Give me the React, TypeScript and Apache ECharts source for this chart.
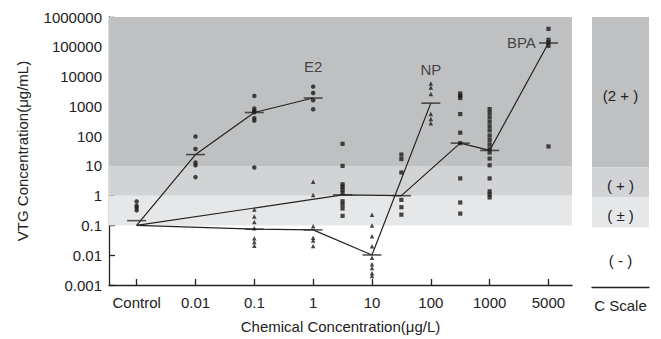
import React, { useEffect, useRef } from "react";
import * as echarts from "echarts";

const xLabels = ["Control", "0.01", "0.1", "1", "10", "100", "1000", "5000"];
const tickPositions = [0, 1, 2, 3, 4, 5, 6, 7];

const startValue = 0.1;
const controlX = 0;
const controlDots = [0.64, 0.46, 0.39, 0.32];
const controlMean = 0.145;

const e2X = [1, 2, 3];
const e2Points = [
  [97, 37, 13, 10.5, 4.2],
  [2240, 850, 710, 630, 400, 330, 8.8],
  [4600, 2800, 1600, 800],
];
const e2Means = [24, 620, 1900];

const npX = [2, 3, 4, 5];
const npPoints = [
  [0.34, 0.2, 0.13, 0.08, 0.037, 0.028, 0.021],
  [2.96, 1.06, 0.094, 0.0385, 0.031, 0.0204],
  [0.23, 0.1, 0.043, 0.02, 0.0083, 0.005, 0.0037, 0.0025, 0.002],
  [5900, 4260, 2610, 551, 376, 271],
];
const npMeans = [0.075, 0.071, 0.0102, 1280];

const bpaX = [3.5, 4.5, 5.5, 6, 7];
const bpaPoints = [
  [55, 10, 2.4, 2.0, 1.6, 1.25, 0.65, 0.5, 0.37, 0.21],
  [24, 17, 6, 0.72, 0.41, 0.23],
  [2700, 2250, 1900, 550, 130, 58, 3.8, 0.59, 0.25],
  [810, 600, 430, 305, 215, 155, 105, 75, 53, 38, 28, 17.6, 10.5, 3.8, 1.4, 1.1, 0.87],
  [400000, 172000, 140000, 108000, 45],
];
const bpaMeans = [1.06, 1.0, 58, 33, 134000];

const chemLabels = [
  { name: "E2", x: 3, y: 21700 },
  { name: "NP", x: 5, y: 17300 },
  { name: "BPA", x: 6.54, y: 144000 },
];

const bands = [
  { from: 10, to: 1000000, color: "#bfc0c2", label: "(2 + )" },
  { from: 1, to: 10, color: "#d2d3d5", label: "( + )" },
  { from: 0.1, to: 1, color: "#e6e7e8", label: "( ± )" },
  { from: 0.001, to: 0.1, color: "rgba(255,255,255,0)", label: "( - )" },
];

const FONT = "'Liberation Sans', Arial, Helvetica, sans-serif";
const TXT = "#222";

function flatten(xs: number[], groups: number[][]) {
  const out: number[][] = [];
  xs.forEach((x, i) => groups[i].forEach((v) => out.push([x, v])));
  return out;
}

export default function App() {
  const ref = useRef<HTMLDivElement>(null);
  useEffect(() => {
    if (!ref.current) return;
    const chart = echarts.init(ref.current, undefined, { renderer: "svg" });
    const fmt = (v: number) => {
      const e = Math.round(Math.log10(v));
      return e >= 0 ? String(Math.pow(10, e)) : Math.pow(10, e).toFixed(-e);
    };
    const meanStyle = { color: "#2a2a2a" };
    const lineStyle = { color: "#222", width: 1.2 };
    const markerColor = "#1a1a1a";
    const option: any = {
      animation: false,
      textStyle: { fontFamily: FONT },
      grid: [
        { left: 109, top: 17, width: 463, height: 270.7 },
        { left: 592, top: 17, width: 57, height: 270.7 },
      ],
      xAxis: [
        {
          type: "value",
          gridIndex: 0,
          min: -0.47,
          max: 7.4,
          splitLine: { show: false },
          axisLine: { onZero: false, lineStyle: { color: "#222", width: 1.3 } },
          axisTick: { inside: true, length: 6, customValues: tickPositions, lineStyle: { color: "#222", width: 1.3 } },
          axisLabel: {
            customValues: tickPositions,
            formatter: (v: number) => xLabels[Math.round(v)] ?? "",
            fontSize: 15,
            color: TXT,
            margin: 10,
            fontFamily: FONT,
          },
          name: "Chemical Concentration(μg/L)",
          nameLocation: "middle",
          nameGap: 34,
          nameTextStyle: { fontSize: 15, color: TXT, fontFamily: FONT },
        },
        {
          type: "value",
          gridIndex: 1,
          min: 0,
          max: 1,
          splitLine: { show: false },
          axisLine: { onZero: false, lineStyle: { color: "#222", width: 1.3 } },
          axisTick: { show: false },
          axisLabel: {
            customValues: [0.5],
            formatter: () => "C Scale",
            fontSize: 15,
            color: TXT,
            margin: 10,
            fontFamily: FONT,
          },
        },
      ],
      yAxis: [
        {
          type: "log",
          gridIndex: 0,
          logBase: 10,
          min: 0.001,
          max: 1000000,
          interval: 1,
          splitLine: { show: false },
          axisLine: { show: true, onZero: false, lineStyle: { color: "#222", width: 1.3 } },
          axisTick: { show: true, inside: true, length: 6, lineStyle: { color: "#222", width: 1.3 } },
          axisLabel: { formatter: fmt, fontSize: 15, color: TXT, margin: 7, fontFamily: FONT },
          name: "VTG Concentration(μg/mL)",
          nameLocation: "middle",
          nameRotate: 90,
          nameGap: 79,
          nameTextStyle: { fontSize: 15, color: TXT, fontFamily: FONT },
        },
        {
          type: "log",
          gridIndex: 1,
          logBase: 10,
          min: 0.001,
          max: 1000000,
          show: false,
          axisLine: { onZero: false },
        },
      ],
      series: [
        {
          type: "scatter",
          xAxisIndex: 0,
          yAxisIndex: 0,
          data: [],
          silent: true,
          markArea: {
            silent: true,
            data: bands.map((b) => [
              { yAxis: b.from, itemStyle: { color: b.color } },
              { yAxis: b.to },
            ]),
          },
        },
        {
          type: "scatter",
          xAxisIndex: 1,
          yAxisIndex: 1,
          data: [],
          silent: true,
          markArea: {
            silent: true,
            label: { show: true, position: "inside", fontSize: 15, color: TXT, fontFamily: FONT, offset: [0, 3] },
            data: bands.map((b) => [
              { yAxis: b.from, name: b.label, itemStyle: { color: b.color } },
              { yAxis: b.to },
            ]),
          },
        },
        {
          type: "line",
          xAxisIndex: 0,
          yAxisIndex: 0,
          symbol: "none",
          lineStyle,
          data: [[controlX, startValue], ...e2X.map((x, i) => [x, e2Means[i]])],
          z: 3,
        },
        {
          type: "line",
          xAxisIndex: 0,
          yAxisIndex: 0,
          symbol: "none",
          lineStyle,
          data: [[controlX, startValue], ...npX.map((x, i) => [x, npMeans[i]])],
          z: 3,
        },
        {
          type: "line",
          xAxisIndex: 0,
          yAxisIndex: 0,
          symbol: "none",
          lineStyle,
          data: [[controlX, startValue], ...bpaX.map((x, i) => [x, bpaMeans[i]])],
          z: 3,
        },
        {
          type: "scatter",
          symbol: "rect",
          symbolSize: [19, 1.6],
          itemStyle: meanStyle,
          data: [
            [controlX, controlMean],
            ...e2X.map((x, i) => [x, e2Means[i]]),
            ...npX.map((x, i) => [x, npMeans[i]]),
            ...bpaX.map((x, i) => [x, bpaMeans[i]]),
          ],
          z: 4,
        },
        {
          type: "scatter",
          symbol: "circle",
          symbolSize: 4.5,
          itemStyle: { color: markerColor },
          data: [...controlDots.map((v) => [controlX, v]), ...flatten(e2X, e2Points)],
          z: 5,
        },
        {
          type: "scatter",
          symbol: "triangle",
          symbolSize: 4.5,
          itemStyle: { color: markerColor },
          data: flatten(npX, npPoints),
          z: 5,
        },
        {
          type: "scatter",
          symbol: "rect",
          symbolSize: 4.2,
          itemStyle: { color: markerColor },
          data: flatten(bpaX, bpaPoints),
          z: 5,
        },
        {
          type: "scatter",
          symbolSize: 0,
          silent: true,
          data: chemLabels.map((c) => ({ value: [c.x, c.y], name: c.name })),
          label: {
            show: true,
            position: "inside",
            formatter: (p: any) => p.name,
            fontSize: 15,
            color: TXT,
            fontFamily: FONT,
          },
          z: 6,
        },
      ],
    };
    chart.setOption(option);
    return () => chart.dispose();
  }, []);
  return (
    <div
      ref={ref}
      style={{ position: "fixed", left: 0, top: 0, width: 661, height: 339, background: "#fff" }}
    />
  );
}
